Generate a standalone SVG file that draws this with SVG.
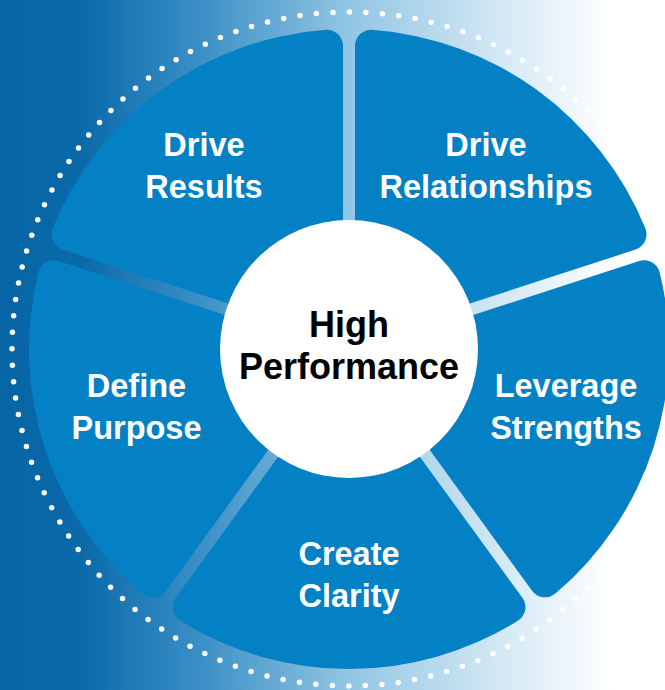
<svg xmlns="http://www.w3.org/2000/svg" width="665" height="690" viewBox="0 0 665 690">
  <defs>
    <linearGradient id="bg" x1="0" y1="0" x2="665" y2="0" gradientUnits="userSpaceOnUse">
      <stop offset="0" stop-color="#0765a5"/>
      <stop offset="0.12" stop-color="#0a69a9"/>
      <stop offset="0.3" stop-color="#3a8fc6"/>
      <stop offset="0.52" stop-color="#90c5e3"/>
      <stop offset="0.75" stop-color="#d2e8f4"/>
      <stop offset="0.92" stop-color="#ffffff"/>
      <stop offset="1" stop-color="#ffffff"/>
    </linearGradient>
  </defs>
  <style>
    .seg { fill: #0481c5; }
    .lbl { font-family: "Liberation Sans", Arial, sans-serif; font-weight: bold; font-size: 32.5px; fill: #ffffff; text-anchor: middle; }
    .ctr { font-family: "Liberation Sans", Arial, sans-serif; font-weight: bold; font-size: 36px; fill: #000000; text-anchor: middle; }
    .dots { fill: none; stroke: #ffffff; stroke-width: 5.5; stroke-linecap: round; stroke-dasharray: 0 16.54; }
  </style>
  <rect x="0" y="0" width="665" height="690" fill="url(#bg)"/>
  <circle class="dots" cx="349" cy="349" r="337"/>
  <g id="connectors"/>
  <g transform="translate(349,349)">
    <g id="drive-relationships">
      <path class="seg" d="M6,-8.25 L6,-303.2 A16,16 0 0 1 23.16,-319.16 A320,320 0 0 1 296.38,-120.65 A16,16 0 0 1 286.51,-99.4 Z"/>
    </g>
    <g id="leverage-strengths">
      <path class="seg" d="M9.7,3.15 L290.21,-87.99 A16,16 0 0 1 310.7,-76.6 A320,320 0 0 1 206.33,244.6 A16,16 0 0 1 183.07,241.77 Z"/>
    </g>
    <g id="create-clarity">
      <path class="seg" d="M0,10.2 L173.37,248.82 A16,16 0 0 1 168.86,271.82 A320,320 0 0 1 -168.86,271.82 A16,16 0 0 1 -173.37,248.82 Z"/>
    </g>
    <g id="define-purpose">
      <path class="seg" d="M-9.7,3.15 L-183.07,241.77 A16,16 0 0 1 -206.33,244.6 A320,320 0 0 1 -310.7,-76.6 A16,16 0 0 1 -290.21,-87.99 Z"/>
    </g>
    <g id="drive-results">
      <path class="seg" d="M-6,-8.25 L-286.51,-99.4 A16,16 0 0 1 -296.38,-120.65 A320,320 0 0 1 -23.16,-319.16 A16,16 0 0 1 -6,-303.2 Z"/>
    </g>
  </g>
  <g id="labels-drive-relationships">
    <text class="lbl" x="486" y="156">Drive</text>
    <text class="lbl" x="486" y="198">Relationships</text>
  </g>
  <g id="labels-leverage-strengths">
    <text class="lbl" x="566" y="397">Leverage</text>
    <text class="lbl" x="566" y="439">Strengths</text>
  </g>
  <g id="labels-create-clarity">
    <text class="lbl" x="349" y="565">Create</text>
    <text class="lbl" x="349" y="607">Clarity</text>
  </g>
  <g id="labels-define-purpose">
    <text class="lbl" x="136.5" y="397">Define</text>
    <text class="lbl" x="136.5" y="439">Purpose</text>
  </g>
  <g id="labels-drive-results">
    <text class="lbl" x="204" y="156">Drive</text>
    <text class="lbl" x="204" y="198">Results</text>
  </g>
  <g id="high-performance">
    <circle cx="349" cy="349" r="129" fill="#ffffff"/>
    <text class="ctr" x="349" y="337">High</text>
    <text class="ctr" x="349" y="379">Performance</text>
  </g>
</svg>
